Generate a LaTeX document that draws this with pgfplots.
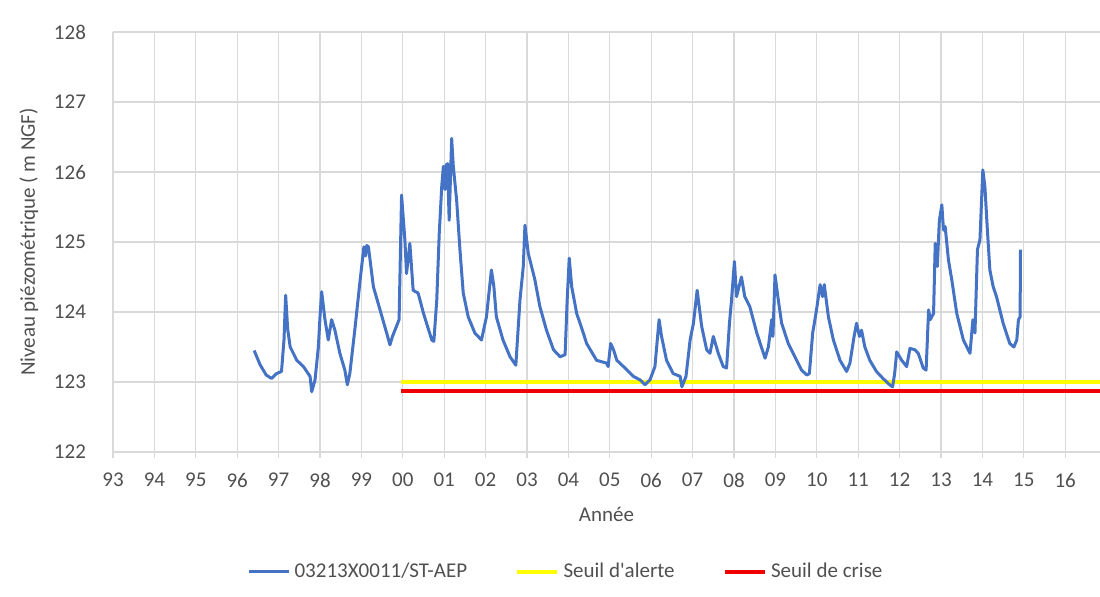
\documentclass[border=0pt]{standalone}
\usepackage{fontspec}
\setmainfont{Carlito}
\usepackage{pgfplots}
\pgfplotsset{compat=1.18}
\definecolor{serie}{RGB}{68,114,196}
\definecolor{alerte}{RGB}{255,255,0}
\definecolor{crise}{RGB}{240,0,0}
\definecolor{gridgray}{RGB}{217,217,217}
\definecolor{textgray}{RGB}{80,80,80}

% x = years since 1993 (0 -> 93, 7 -> 00, 23 -> 16)
\pgfplotstableread{
x val
3.41 123.45
3.55 123.25
3.70 123.10
3.83 123.05
3.95 123.12
4.07 123.15
4.13 123.60
4.17 124.24
4.22 123.75
4.28 123.50
4.44 123.31
4.60 123.22
4.76 123.08
4.80 122.86
4.88 123.03
4.96 123.50
5.00 123.93
5.04 124.29
5.12 123.89
5.20 123.60
5.28 123.89
5.36 123.74
5.48 123.41
5.60 123.17
5.66 122.96
5.72 123.12
5.84 123.74
5.97 124.46
6.06 124.93
6.10 124.80
6.13 124.95
6.17 124.93
6.25 124.55
6.29 124.36
6.45 124.03
6.61 123.70
6.69 123.53
6.75 123.65
6.85 123.80
6.91 123.89
6.97 125.67
7.05 125.03
7.09 124.55
7.17 124.98
7.25 124.31
7.37 124.27
7.50 123.98
7.70 123.60
7.75 123.58
7.82 124.17
7.88 125.12
7.94 125.79
7.98 126.08
8.02 125.75
8.05 126.10
8.08 126.12
8.12 125.31
8.18 126.48
8.22 126.08
8.30 125.60
8.38 124.89
8.46 124.27
8.58 123.93
8.74 123.70
8.90 123.60
9.02 123.93
9.14 124.60
9.20 124.36
9.26 123.93
9.42 123.60
9.59 123.36
9.73 123.24
9.83 124.17
9.91 124.65
9.95 125.24
10.03 124.84
10.11 124.65
10.19 124.46
10.31 124.08
10.47 123.74
10.64 123.46
10.80 123.36
10.92 123.39
10.97 124.17
11.02 124.77
11.08 124.36
11.20 123.98
11.36 123.70
11.44 123.55
11.68 123.31
11.92 123.27
11.96 123.22
12.02 123.55
12.09 123.46
12.17 123.31
12.33 123.22
12.57 123.08
12.73 123.03
12.85 122.96
12.97 123.03
13.09 123.22
13.19 123.89
13.25 123.65
13.37 123.31
13.53 123.12
13.70 123.08
13.74 122.93
13.84 123.08
13.94 123.60
14.02 123.84
14.11 124.31
14.22 123.79
14.34 123.46
14.42 123.41
14.50 123.65
14.62 123.41
14.74 123.22
14.82 123.20
14.89 123.84
14.94 124.17
15.01 124.72
15.06 124.22
15.18 124.50
15.26 124.22
15.38 124.08
15.55 123.70
15.75 123.34
15.83 123.50
15.91 123.89
15.94 123.65
15.99 124.53
16.07 124.17
16.15 123.84
16.31 123.55
16.47 123.36
16.63 123.17
16.76 123.10
16.82 123.12
16.90 123.70
16.98 123.98
17.08 124.39
17.14 124.22
17.18 124.39
17.28 123.93
17.40 123.60
17.56 123.31
17.72 123.15
17.80 123.27
17.90 123.65
17.96 123.84
18.03 123.65
18.08 123.74
18.16 123.50
18.28 123.31
18.44 123.15
18.60 123.05
18.76 122.96
18.83 122.93
18.88 123.12
18.93 123.43
19.05 123.31
19.17 123.22
19.25 123.48
19.37 123.46
19.45 123.41
19.57 123.20
19.64 123.17
19.70 124.03
19.74 123.89
19.82 123.98
19.86 124.98
19.91 124.65
19.96 125.31
20.02 125.53
20.06 125.17
20.10 125.22
20.18 124.74
20.26 124.46
20.38 123.98
20.54 123.60
20.70 123.41
20.77 123.89
20.82 123.70
20.88 124.89
20.94 125.03
21.01 126.03
21.06 125.79
21.12 125.17
21.18 124.60
21.26 124.36
21.34 124.22
21.50 123.84
21.66 123.55
21.76 123.50
21.83 123.60
21.87 123.89
21.91 123.93
21.92 124.89
}\piezo

\begin{document}
\begin{tikzpicture}
\begin{axis}[
  scale only axis, width=493.5pt, height=210pt,
  xmin=0, xmax=23.84, ymin=122, ymax=128,
  xtick={0,...,23},
  xticklabels={93,94,95,96,97,98,99,00,01,02,03,04,05,06,07,08,09,10,11,12,13,14,15,16},
  ytick={122,...,128},
  axis lines*=left,
  x axis line style={draw=gridgray, line width=0.6pt},
  y axis line style={draw=none},
  grid=major, grid style={draw=gridgray, line width=0.6pt},
  tick align=outside, major tick length=3pt,
  xtick style={draw=gridgray, line width=0.6pt},
  ytick style={draw=none},
  /pgf/number format/assume math mode=true,
  tick label style={font=\fontsize{10.5}{12}\selectfont, text=textgray},
  xticklabel style={yshift=-4pt},
  yticklabel style={xshift=-7pt},
  xlabel={Année}, ylabel={Niveau piézométrique ( m NGF)},
  label style={font=\fontsize{10.5}{12}\selectfont, text=textgray},
  xlabel style={yshift=-3pt},
  ylabel style={yshift=1pt},
  legend columns=3,
  legend style={at={(0.46,-0.2857)}, anchor=center, draw=none, fill=none,
    font=\fontsize{10.5}{12}\selectfont, text=textgray,
    /tikz/every even column/.append style={column sep=22pt}},
  legend cell align=left,
  legend image code/.code={\draw[#1] (0pt,0pt) -- (20pt,0pt);},
]
\addplot[alerte, line width=2.2pt, forget plot] coordinates {(6.96,123.0) (23.84,123.0)};
\addplot[crise, line width=2.2pt, forget plot] coordinates {(6.96,122.87) (23.84,122.87)};
\addplot[serie, line width=1.5pt, line join=round] table[x=x, y=val] {\piezo};
\addlegendentry{03213X0011/ST-AEP}
\addlegendimage{alerte, line width=2.2pt}
\addlegendentry{Seuil d\textquotesingle alerte}
\addlegendimage{crise, line width=2.2pt}
\addlegendentry{Seuil de crise}
\end{axis}
\pgfresetboundingbox
\path ([shift={(-56.5pt,-72.5pt)}]current axis.south west) rectangle ([shift={(0pt,16pt)}]current axis.north east);
\end{tikzpicture}
\end{document}
